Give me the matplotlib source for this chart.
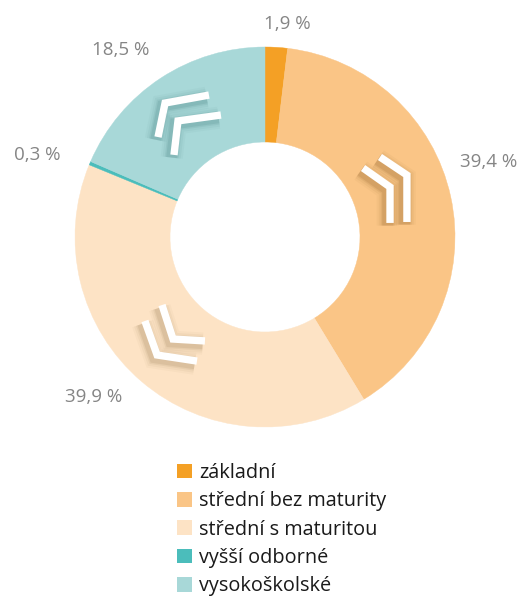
import matplotlib
matplotlib.use("Agg")
import matplotlib.pyplot as plt
from matplotlib.patches import Patch
import numpy as np

categories = ["základní", "střední bez maturity", "střední s maturitou", "vyšší odborné", "vysokoškolské"]
values = [1.9, 39.4, 39.9, 0.3, 18.5]
value_labels = ["1,9 %", "39,4 %", "39,9 %", "0,3 %", "18,5 %"]
colors = ["#F4A025", "#FAC586", "#FDE3C5", "#4BBDBB", "#A8D8D8"]

# label positions (donut units: centre 0,0, outer radius 1)
label_pos = [(0.116, 1.121), (1.179, 0.395), (-0.90, -0.842), (-1.20, 0.432), (-0.758, 0.984)]

# decorative chevrons (end1, vertex, end2) in donut units
chevrons = [
    [(0.605, 0.421), (0.747, 0.326), (0.747, 0.079)],
    [(0.516, 0.363), (0.658, 0.263), (0.658, 0.074)],
    [(-0.632, -0.442), (-0.568, -0.621), (-0.358, -0.653)],
    [(-0.542, -0.358), (-0.484, -0.537), (-0.316, -0.547)],
    [(-0.295, 0.747), (-0.526, 0.705), (-0.563, 0.526)],
    [(-0.232, 0.642), (-0.458, 0.611), (-0.479, 0.432)],
]
shadow_cols = ["#7a4a15", "#7a4a15", "#8a6a40", "#8a6a40", "#2f6e6e", "#2f6e6e"]

plt.rcParams['font.family'] = ['Open Sans', 'DejaVu Sans']

W, H = 532, 599
fig = plt.figure(figsize=(W / 100, H / 100), dpi=100)
cx, cy, R = 265, 237, 190
ax = fig.add_axes([(cx - R) / W, (H - cy - R) / H, 2 * R / W, 2 * R / H])

wedges, _ = ax.pie(values, colors=colors, startangle=90, counterclock=False, radius=1,
                   wedgeprops=dict(width=0.5, edgecolor="none", linewidth=0))
for w, c in zip(wedges, colors):
    w.set_edgecolor(c)
    w.set_linewidth(0.3)
ax.set_xlim(-1, 1)
ax.set_ylim(-1, 1)
ax.set_aspect("auto")
ax.axis("off")

for lab, (x, y) in zip(value_labels, label_pos):
    ax.text(x, y, lab, ha="center", va="center", fontsize=13.5, color="#858585", clip_on=False)

for pts, sc in zip(chevrons, shadow_cols):
    xs = np.array([p[0] for p in pts])
    ys = np.array([p[1] for p in pts])
    for lw, a in [(16, 0.04), (13, 0.06), (10, 0.09), (8, 0.12)]:
        ax.plot(xs - 0.012, ys - 0.014, color=sc, lw=lw, alpha=a, solid_joinstyle="miter",
                solid_capstyle="butt")
    ax.plot(xs, ys, color="white", lw=5.3, solid_joinstyle="miter", solid_capstyle="butt")

handles = [Patch(facecolor=c, edgecolor="none") for c in colors]
fig.legend(handles, categories, loc="upper left", bbox_to_anchor=(177 / W, 1 - 463 / H),
           frameon=False, fontsize=14.3, handlelength=0.75, handleheight=0.75,
           handletextpad=0.35, labelspacing=0.42, labelcolor="#1a1a1a", borderaxespad=0,
           borderpad=0)

fig.savefig("out.png", dpi=100)
